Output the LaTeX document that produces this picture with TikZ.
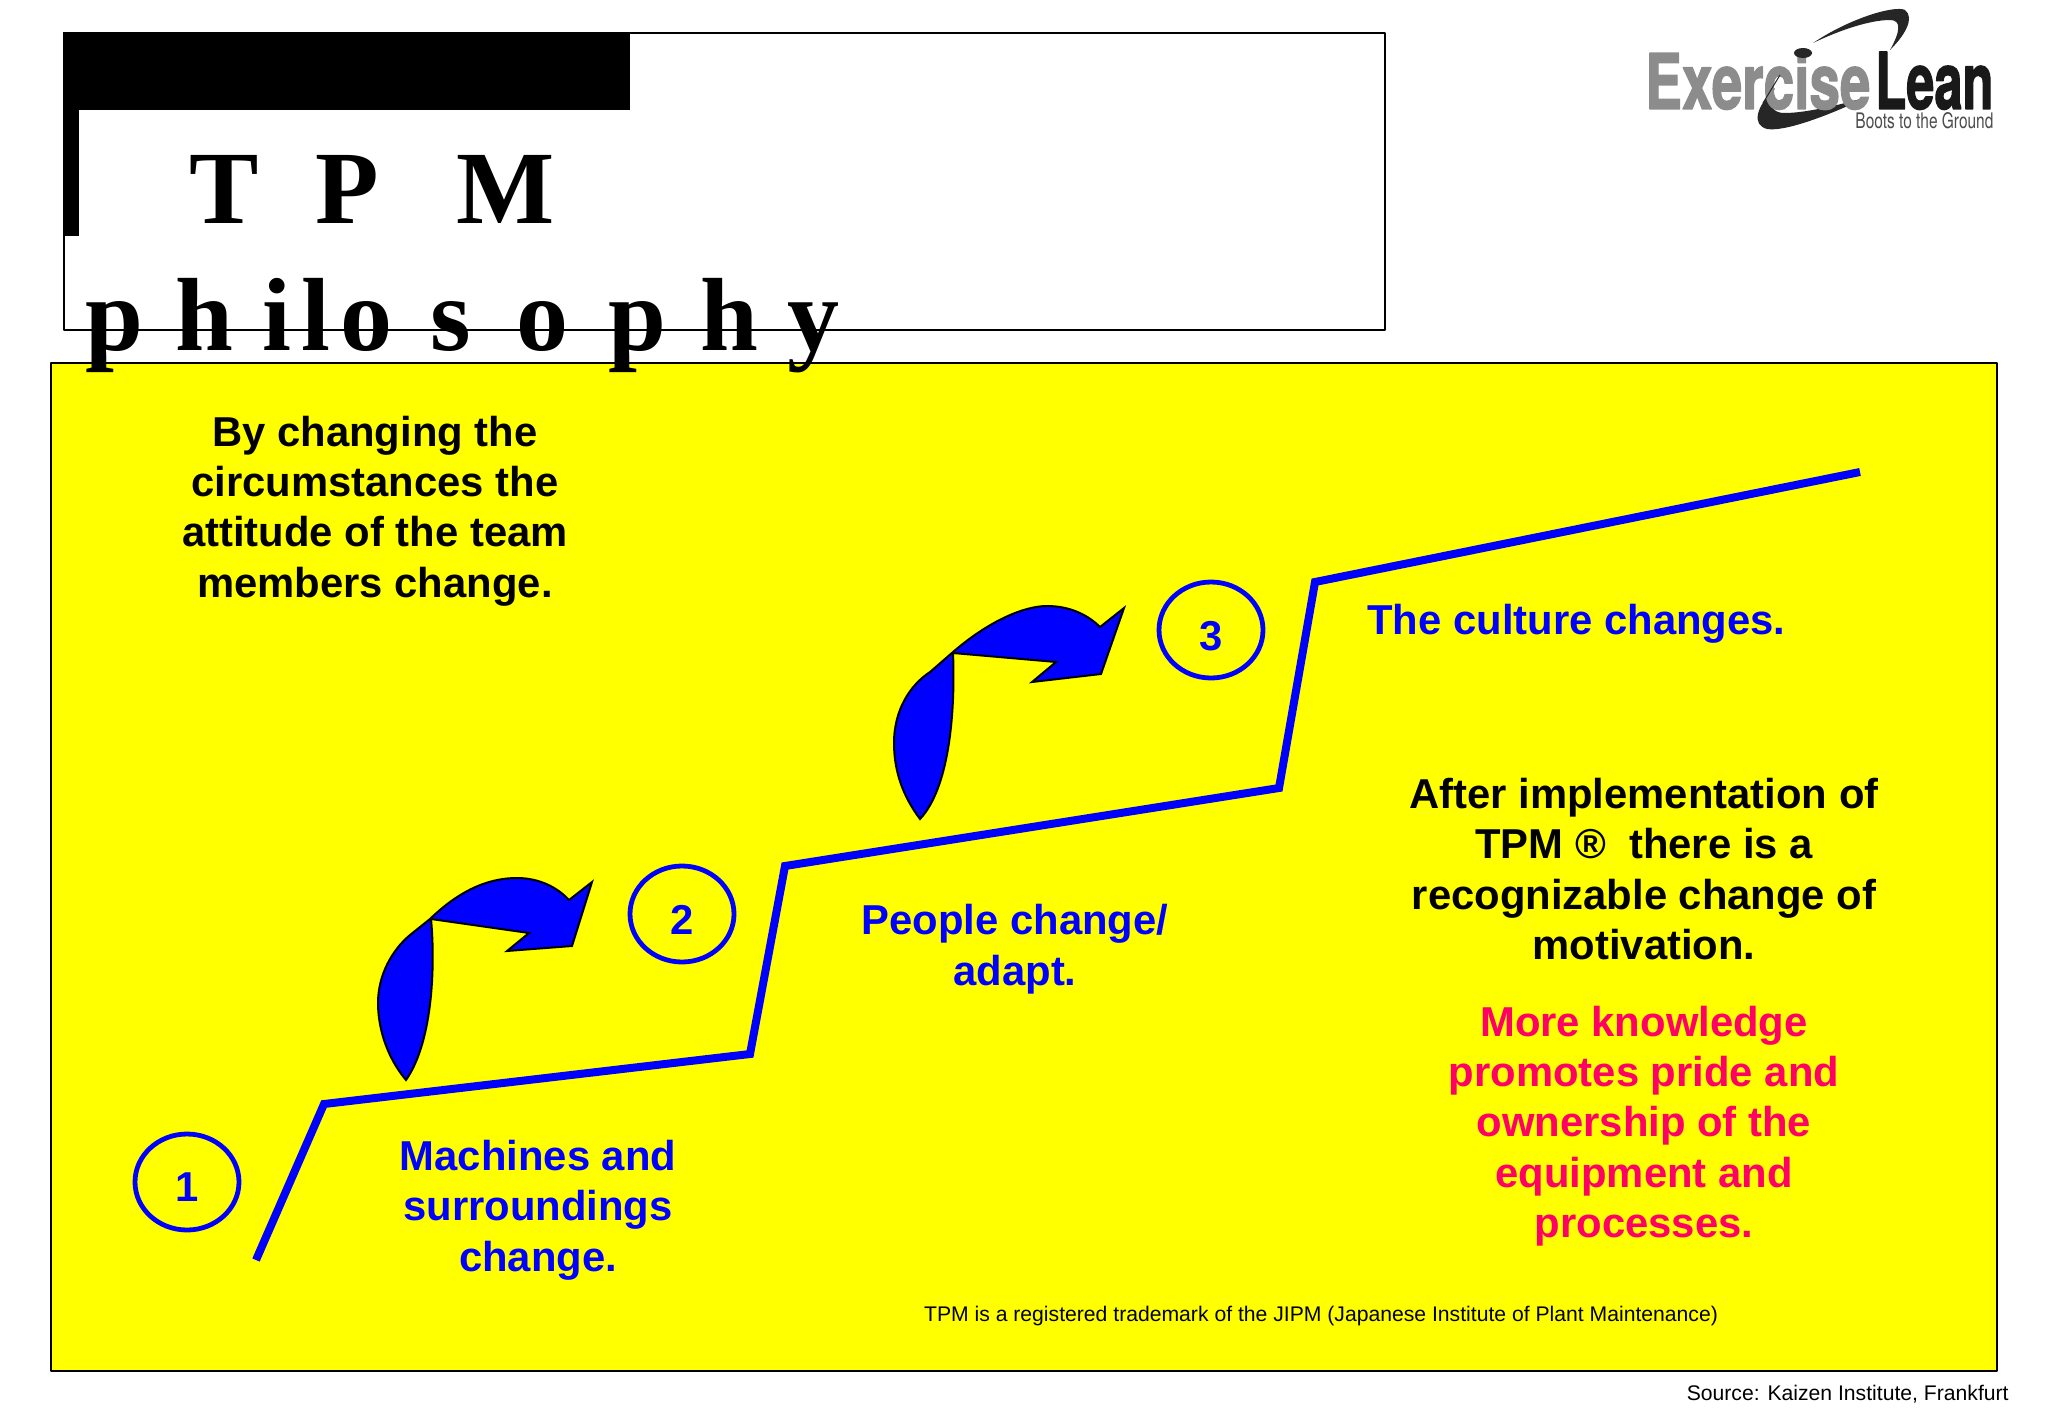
\documentclass[tikz,border=0pt]{standalone}
\usepackage{fontspec}
\setmainfont{Liberation Sans}
\newfontfamily\serifbold{Liberation Serif}[BoldFont={* Bold}]
\newfontfamily\logofont{TeX Gyre Heros}[BoldFeatures={FakeBold=2}]
\usetikzlibrary{shapes.geometric}
\definecolor{pinktext}{RGB}{255,0,102}
\definecolor{panelyellow}{RGB}{255,255,0}
\tikzset{
	titleletter/.style={anchor=base,inner sep=0pt,font=\fontsize{52}{52}\serifbold\bfseries},
	bigtext/.style={align=center,inner sep=0pt,font=\fontsize{20.9}{25.2}\selectfont\bfseries},
	smalltext/.style={inner sep=0pt,font=\fontsize{10.58}{13}\selectfont},
	stepnumber/.style={draw=blue,line width=2.4pt,ellipse,minimum width=52pt,minimum height=48pt,inner sep=0pt,text=blue,font=\fontsize{20.9}{25.2}\selectfont\bfseries},
	bentarrow/.style={fill=blue,draw=black,line width=1pt,line join=miter},
}
\begin{document}
\begin{tikzpicture}[x=0.5pt,y=-0.5pt,line join=round]
	\useasboundingbox (0,0) rectangle (2048,1418);
	% title frame
	\draw[line width=0.8pt] (64,33) rectangle (1385,330);
	\fill (63,32) rectangle (630,110);
	\fill (63,32) rectangle (79,236);
	% yellow panel
	\draw[fill=panelyellow,line width=0.8pt] (51,363) rectangle (1997,1371);
	% title letters
	\foreach \ch/\px in {T/224,P/347,M/506}
		\node[titleletter] (top\px) at (\px,223) {\ch};
	\foreach \ch/\px in {p/114,h/204,i/277,l/316,o/366,s/451,o/542,p/637,h/729,y/813}
		\node[titleletter] (low\px) at (\px,350) {\ch};
	% logo
	\fill[black!85] (1813,43) .. controls (1850,18) and (1895,5) .. (1905,10) .. controls (1915,18) and (1905,35) .. (1890,50) .. controls (1900,32) and (1902,20) .. (1890,20) .. controls (1870,20) and (1840,30) .. cycle;
	\fill[black!85] (1867,97) .. controls (1830,115) and (1785,132) .. (1767,129) .. controls (1752,125) and (1755,108) .. (1775,88) .. controls (1768,103) and (1770,113) .. (1785,113) .. controls (1805,113) and (1840,105) .. cycle;
	\node[anchor=south west,inner sep=0pt,text=black!45,font=\logofont\bfseries] (logoa) at (1645,110) {\resizebox{112.5pt}{28.5pt}{Exercise}};
	\node[anchor=south west,inner sep=0pt,text=black!90,font=\logofont\bfseries] (logob) at (1875,110) {\resizebox{59pt}{28.5pt}{Lean}};
	\draw[black!85,line width=0.5pt] (1763,103)--(1780,75);
	\fill[black!85] (1803,53) ellipse (9 and 5);
	\node[anchor=south west,inner sep=0pt,text=black!70,font=\logofont] (logoc) at (1855,129) {\resizebox{69pt}{8pt}{Boots to the Ground}};
	% stairs
	\draw[blue,line width=4pt,line join=miter] (256,1260)--(324,1104)--(750,1054)--(785,866)--(1279,788)--(1315,582)--(1860,472);
	\node[stepnumber] (one) at (187,1182) {\raisebox{-9.7pt}[0pt][0pt]{1}};
	\node[stepnumber] (two) at (682,914) {\raisebox{-10pt}[0pt][0pt]{2}};
	\node[stepnumber] (three) at (1211,630) {\raisebox{-10pt}[0pt][0pt]{3}};
	% bent arrows
	\draw[bentarrow] (406,1080) .. controls (385,1055) and (378,1025) .. (378,1003) .. controls (378,975) and (392,950) .. (410,935) -- (430,919) .. controls (465,885) and (495,878) .. (517,878) .. controls (540,878) and (558,888) .. (569,900) -- (592,882) -- (572,946) -- (507,951) -- (529,933) -- (431,919) .. controls (435,960) and (434,1040) .. cycle;
	\draw[bentarrow] (920,819) .. controls (902,795) and (894,770) .. (894,743) .. controls (894,710) and (910,685) .. (930,672) -- (953,652) .. controls (990,620) and (1025,606) .. (1047,606) .. controls (1070,606) and (1088,615) .. (1100,627) -- (1124,608) -- (1101,674) -- (1032,682) -- (1056,662) -- (953,653) .. controls (955,700) and (952,785) .. cycle;
	% texts
	\node[bigtext] (intro) at (375,511) {By changing the\\circumstances the\\attitude of the team\\members change.};
	\node[bigtext,text=blue] (machines) at (538,1210) {Machines and\\surroundings\\change.};
	\node[bigtext,text=blue] (people) at (1015,949) {People change/\\adapt.};
	\node[bigtext,text=blue,anchor=west] (culture) at (1367,624) {The culture changes.};
	\node[bigtext] (after) at (1644,869) {After implementation of\\TPM \textregistered\ \ there is a\\recognizable change of\\motivation.};
	\node[bigtext,text=pinktext] (more) at (1644,1126) {More knowledge\\promotes pride and\\ownership of the\\equipment and\\processes.};
	\node[smalltext] (trademark) at (1321,1316) {TPM is a registered trademark of the JIPM (Japanese Institute of Plant Maintenance)};
	\node[smalltext,anchor=east] (source) at (2009,1394) {Source: Kaizen Institute, Frankfurt};
\end{tikzpicture}
\end{document}
